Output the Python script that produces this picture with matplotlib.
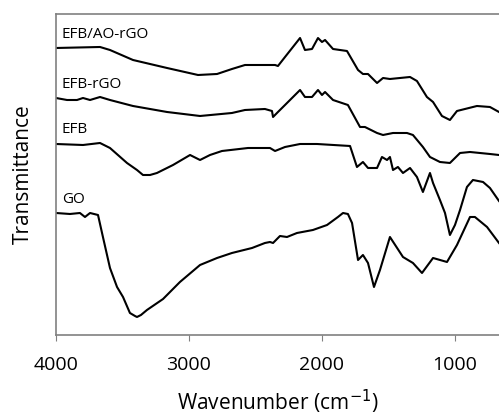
import matplotlib
matplotlib.use("Agg")
import matplotlib.pyplot as plt

plt.rcParams['font.family'] = ['Open Sans', 'DejaVu Sans']

# Espectros FTIR (transmitancia en unidades arbitrarias)
wn_ao = [4000, 3669, 3594, 3421, 3165, 2932, 2789, 2677, 2579, 2353, 2331, 2278, 2165, 2128,
         2075, 2030, 2000, 1977, 1917, 1812, 1729, 1692, 1654, 1586, 1541, 1489, 1338, 1286,
         1211, 1165, 1098, 1038, 985, 835, 737, 669]
t_ao = [287, 288, 285, 275, 267, 260, 261, 266, 270, 270, 269, 278, 297, 285,
        286, 297, 293, 295, 286, 284, 265, 261, 261, 252, 257, 256, 258, 254,
        238, 233, 219, 215, 224, 229, 228, 223]

wn_rgo = [4000, 3917, 3842, 3797, 3744, 3669, 3594, 3421, 3165, 2917, 2677, 2579, 2429, 2376,
          2368, 2331, 2278, 2165, 2128, 2075, 2030, 2000, 1977, 1917, 1805, 1714, 1677, 1586,
          1541, 1466, 1361, 1316, 1241, 1188, 1113, 1038, 962, 887, 737, 669]
t_rgo = [237, 235, 235, 237, 235, 238, 235, 229, 223, 219, 222, 225, 226, 224,
         218, 223, 230, 245, 238, 238, 245, 240, 243, 235, 230, 208, 208, 202,
         200, 202, 202, 200, 188, 178, 173, 172, 182, 183, 181, 180]

wn_efb = [4000, 3797, 3669, 3594, 3466, 3391, 3346, 3293, 3241, 3120, 2992, 2917, 2842, 2752, 2556, 2391,
          2353, 2278, 2165, 2038, 1789, 1737, 1692, 1654, 1586, 1549, 1511, 1489, 1466, 1429,
          1391, 1338, 1286, 1241, 1188, 1165, 1113, 1075, 1038, 1000, 962, 910, 865, 789, 737, 669]
t_efb = [191, 190, 192, 187, 172, 165, 160, 160, 162, 170, 180, 175, 180, 184, 187, 187,
         184, 188, 191, 191, 189, 168, 173, 167, 167, 178, 175, 178, 165, 168,
         162, 167, 158, 143, 162, 152, 135, 122, 100, 110, 125, 148, 155, 153, 147, 134]

wn_go = [4000, 3895, 3820, 3782, 3744, 3684, 3647, 3594, 3541, 3496, 3444, 3406, 3391, 3361, 3316,
         3195, 3068, 2917, 2789, 2677, 2526, 2429, 2391, 2368, 2316, 2263, 2188, 2068, 1962, 1880,
         1842, 1805, 1774, 1729, 1692, 1654, 1609, 1564, 1489, 1391, 1316, 1248, 1165, 1060, 985,
         887, 850, 759, 669]
t_go = [122, 121, 122, 118, 122, 120, 98, 67, 48, 38, 22, 19, 18, 20, 25,
        36, 53, 70, 77, 82, 87, 92, 93, 92, 99, 98, 102, 105, 110, 118,
        122, 121, 112, 75, 80, 72, 48, 65, 98, 78, 72, 62, 77, 73, 90,
        118, 118, 108, 92]

etiquetas = ["EFB/AO-rGO", "EFB-rGO", "EFB", "GO"]
pos_etiquetas = [300, 250, 205, 135]

fig = plt.figure(figsize=(4.99, 4.19), dpi=100)
ax = fig.add_axes([0.1122, 0.2005, 0.8878, 0.7661])

for wn, t in [(wn_ao, t_ao), (wn_rgo, t_rgo), (wn_efb, t_efb), (wn_go, t_go)]:
    ax.plot(wn, t, color='black', lw=1.5)

for texto, y in zip(etiquetas, pos_etiquetas):
    ax.text(3955, y, texto, fontsize=11, va='center', ha='left')

ax.set_xlim(4000, 669)
ax.set_ylim(0, 321)
ax.set_xticks([4000, 3000, 2000, 1000])
ax.set_yticks([])
ax.tick_params(axis='x', direction='out', length=4, color='#808080', labelsize=14, pad=11)
for s in ['left', 'bottom', 'top']:
    ax.spines[s].set_color('#808080')
    ax.spines[s].set_linewidth(1.2)
ax.spines['right'].set_visible(False)

ax.set_xlabel("Wavenumber (cm$^{-1}$)", fontsize=15, labelpad=10)
ax.set_ylabel("Transmittance", fontsize=15, labelpad=16)

fig.savefig("out.png", dpi=100)
